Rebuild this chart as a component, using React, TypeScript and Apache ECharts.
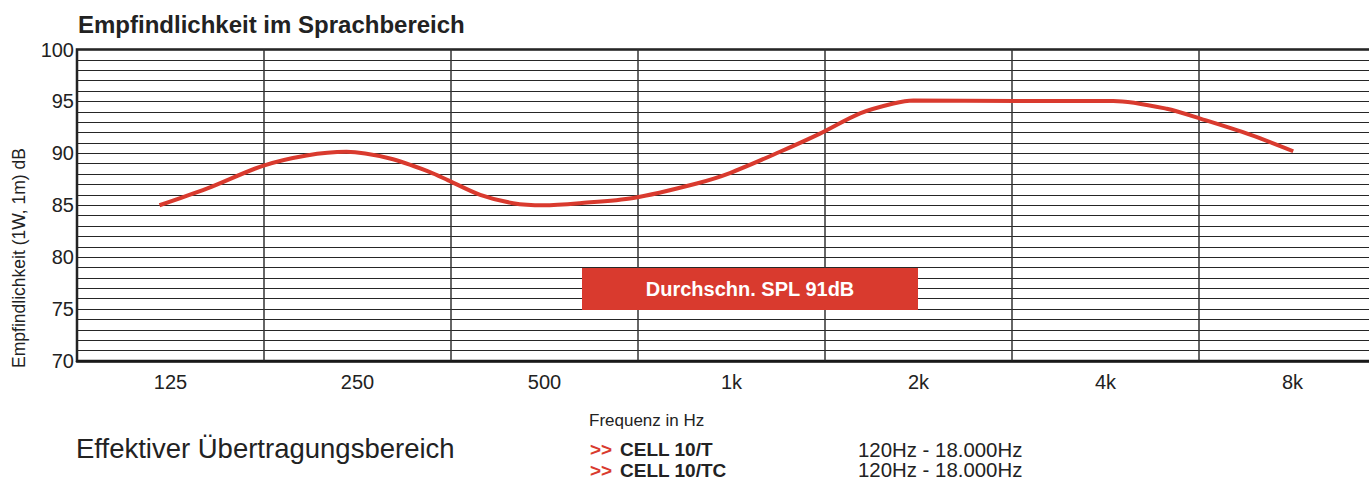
import React, { useEffect, useRef } from "react";
import * as echarts from "echarts";

const categories = ["125", "250", "500", "1k", "2k", "4k", "8k"];
const bandCenterHz = [125, 250, 500, 1000, 2000, 4000, 8000];
const freqHz = [120, 143, 176, 207, 240, 282, 327, 350, 394, 445, 498, 570, 695, 879, 994, 1197, 1388, 1610, 1822, 1962, 2870, 4117, 5018, 5713, 6834, 8022];
const splDb = [85.0, 86.6, 88.8, 89.8, 90.15, 89.5, 88.2, 87.4, 86.0, 85.2, 85.0, 85.2, 85.7, 87.1, 88.1, 90.15, 91.9, 93.85, 94.8, 95.1, 95.05, 95.05, 94.3, 93.3, 91.8, 90.2];
const yMin = 70;
const yMax = 100;
const yLabelStep = 5;

const titleText = "Empfindlichkeit im Sprachbereich";
const yName = "Empfindlichkeit (1W, 1m) dB";
const xName = "Frequenz in Hz";
const badgeText = "Durchschn. SPL 91dB";
const rangeTitle = "Effektiver Übertragungsbereich";
const models = ["CELL 10/T", "CELL 10/TC"];
const modelRanges = ["120Hz - 18.000Hz", "120Hz - 18.000Hz"];

const FONT = '"Liberation Sans", Arial, Helvetica, sans-serif';
const RED = "#d93a2e";
const INK = "#222222";
const CHART_W = 1390;

export default function App() {
  const ref = useRef<HTMLDivElement>(null);
  useEffect(() => {
    if (!ref.current) return;
    const chart = echarts.init(ref.current, undefined, { renderer: "svg" });
    const lo = bandCenterHz[0] / Math.SQRT2;
    const hi = bandCenterHz[bandCenterHz.length - 1] * Math.SQRT2;
    const rowsY = 459.75;
    const rowLH = 20.5;
    const graphics: any[] = [
      {
        type: "text", x: 78, y: 24, z: 100,
        style: { text: titleText, font: `bold 24px ${FONT}`, fill: INK, verticalAlign: "middle", align: "left" },
      },
      {
        type: "text", x: 18.5, y: 258, rotation: Math.PI / 2, z: 100,
        style: { text: yName, font: `17.5px ${FONT}`, fill: INK, verticalAlign: "middle", align: "center" },
      },
      {
        type: "rect", z: 100,
        shape: { x: 582, y: 268, width: 336, height: 42 },
        style: { fill: RED },
      },
      {
        type: "text", x: 750, y: 289, z: 101,
        style: { text: badgeText, font: `bold 20px ${FONT}`, fill: "#ffffff", verticalAlign: "middle", align: "center" },
      },
      {
        type: "text", x: 589, y: 420, z: 100,
        style: { text: xName, font: `17px ${FONT}`, fill: INK, verticalAlign: "middle", align: "left" },
      },
      {
        type: "text", x: 76, y: 448.5, z: 100,
        style: { text: rangeTitle, font: `27.5px ${FONT}`, fill: INK, verticalAlign: "middle", align: "left" },
      },
      {
        type: "text", x: 590, y: rowsY, z: 100,
        style: { text: models.map(() => ">>").join("\n"), font: `bold 19px ${FONT}`, lineHeight: rowLH, fill: RED, verticalAlign: "middle", align: "left" },
      },
      {
        type: "text", x: 620, y: rowsY, z: 100,
        style: { text: models.join("\n"), font: `bold 19px ${FONT}`, lineHeight: rowLH, fill: INK, verticalAlign: "middle", align: "left" },
      },
      {
        type: "text", x: 858, y: rowsY, z: 100,
        style: { text: modelRanges.join("\n"), font: `20.4px ${FONT}`, lineHeight: rowLH, fill: INK, verticalAlign: "middle", align: "left" },
      },
    ];

    chart.setOption({
      animation: false,
      backgroundColor: "#ffffff",
      grid: {
        left: 77, top: 49.5, right: CHART_W - 1386, bottom: 120,
        show: true, borderColor: "#1a1a1a", borderWidth: 2.5, backgroundColor: "transparent",
      },
      xAxis: [
        {
          type: "category",
          data: categories,
          boundaryGap: true,
          position: "bottom",
          axisLine: { show: true, lineStyle: { color: "#1a1a1a", width: 2.5 } },
          axisTick: { show: false },
          axisLabel: { fontSize: 20, color: INK, fontFamily: FONT, margin: 11 },
          splitLine: { show: true, lineStyle: { color: "#333333", width: 1.5 } },
        },
        {
          type: "log",
          logBase: 2,
          min: lo,
          max: hi,
          show: false,
          splitLine: { show: false },
        },
      ],
      yAxis: {
        type: "value",
        min: yMin,
        max: yMax,
        interval: 1,
        axisLine: { show: true, lineStyle: { color: INK, width: 1.5 } },
        axisTick: { show: false },
        axisLabel: {
          fontSize: 20, color: INK, fontFamily: FONT, margin: 3,
          formatter: (v: number) => (v % yLabelStep === 0 ? String(v) : ""),
        },
        splitLine: { show: true, lineStyle: { color: "#262626", width: 1.2 } },
      },
      series: [
        {
          type: "line",
          xAxisIndex: 1,
          yAxisIndex: 0,
          data: freqHz.map((f, i) => [f, splDb[i]]),
          symbol: "none",
          smooth: 0.3,
          lineStyle: { color: RED, width: 4 },
          z: 10,
        },
      ],
      graphic: graphics,
    });
    return () => chart.dispose();
  }, []);
  return (
    <div style={{ position: "absolute", left: 0, top: 0, width: 1369, height: 481, overflow: "hidden" }}>
      <div ref={ref} style={{ width: CHART_W, height: 481 }} />
    </div>
  );
}
